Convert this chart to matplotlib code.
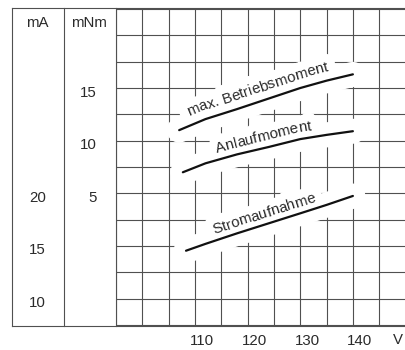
import matplotlib
matplotlib.use("Agg")
import matplotlib.pyplot as plt
import matplotlib.patheffects as pe
from matplotlib.font_manager import FontProperties
from matplotlib.lines import Line2D
from matplotlib.transforms import ScaledTranslation
import numpy as np

# values (x in V, torque in mNm, current in mA)
volts_max = [107, 112, 118, 124, 130, 135, 140]
max_torque = [11.0, 12.05, 13.0, 14.0, 15.0, 15.7, 16.3]

volts_start = [107.7, 112, 118, 124, 130, 135, 140]
start_torque = [7.0, 7.85, 8.7, 9.4, 10.15, 10.55, 10.9]

volts_current = [108.3, 112, 118, 124, 130, 135, 140]
current_mA = [14.55, 15.2, 16.2, 17.15, 18.1, 18.9, 19.75]

x_ticks = [110, 120, 130, 140]
torque_ticks = [5, 10, 15]
current_ticks = [10, 15, 20]
MA_OFFSET = 15  # 0 mNm sits level with 15 mA

FONT = ['Liberation Sans', 'DejaVu Sans']
plt.rcParams['font.family'] = FONT
plt.rcParams['font.size'] = 10.8
INK = '#2a2a2a'
GRIDC = '#505050'

W, H = 405, 350
fig = plt.figure(figsize=(W / 100, H / 100), dpi=100)
ax = fig.add_axes([116 / W, 1 - 326 / H, 1 - 116 / W, (326 - 8) / H])

ax.set_xlim(95, 149.9)
ax.set_ylim(-7.6, 22.6)

ax.set_xticks(x_ticks)
ax.set_xticks(np.arange(95, 150, 5), minor=True)
ax.set_yticks(torque_ticks)
ax.set_yticks(np.arange(-7.5, 23, 2.5), minor=True)
ax.grid(which='both', color=GRIDC, lw=0.8)
ax.set_axisbelow(True)
ax.tick_params(which='both', length=0, colors=INK)
ax.tick_params(axis='y', pad=13.7)
ax.tick_params(axis='x', pad=6)
for side in ['top', 'right', 'bottom']:
    ax.spines[side].set_visible(False)
ax.spines['left'].set_color(GRIDC)
ax.spines['left'].set_linewidth(0.8)

sec = ax.secondary_yaxis('left', functions=(lambda v: v + MA_OFFSET,
                                             lambda m: m - MA_OFFSET))
sec.set_yticks(current_ticks)
sec.tick_params(length=0, pad=50.4, colors=INK)
sec.spines['left'].set_visible(False)

# the printed labels sit a little off the grid lines
down = ScaledTranslation(0, -0.03, fig.dpi_scale_trans)
right = ScaledTranslation(0.07, 0, fig.dpi_scale_trans)
for lbl in ax.get_yticklabels() + sec.get_yticklabels():
    lbl.set_transform(lbl.get_transform() + down)
for lbl in ax.get_xticklabels():
    lbl.set_transform(lbl.get_transform() + right)

# frame of the label columns
def fline(x0, y0, x1, y1):
    fig.add_artist(Line2D([x0 / W, x1 / W], [1 - y0 / H, 1 - y1 / H],
                          transform=fig.transFigure, color=GRIDC, lw=0.8))

fline(12, 8, W, 8)
fline(12, 326, W, 326)
fline(12, 8, 12, 326)
fline(64, 8, 64, 326)

fig.text(37 / W, 1 - 23 / H, 'mA', ha='center', va='center', color=INK)
fig.text(89 / W, 1 - 23 / H, 'mNm', ha='center', va='center', color=INK)
fig.text(398 / W, 1 - 340 / H, 'V', ha='center', va='center', color=INK)

curves = [
    (volts_max, max_torque, 'max. Betriebsmoment', 14, 9),
    (volts_start, start_torque, 'Anlaufmoment', 38, 7),
    (volts_current, [c - MA_OFFSET for c in current_mA], 'Stromaufnahme', 32, 6.5),
]

# the print knocks the grid out around each curve and its label
for xs, ys, _, _, _ in curves:
    ax.plot(xs, ys, color='white', lw=18, solid_capstyle='round', zorder=2)
for xs, ys, _, _, _ in curves:
    ax.plot(xs, ys, color='#111111', lw=1.6, solid_capstyle='round', zorder=3)

fig.canvas.draw()
renderer = fig.canvas.get_renderer()
prop = FontProperties(family=FONT, size=10.8)


def width(s):
    return renderer.get_text_width_height_descent(s, prop, ismath=False)[0]


def text_along(xs, ys, label, start, lift):
    pts = ax.transData.transform(np.column_stack([xs, ys]))
    seg = np.hypot(*np.diff(pts, axis=0).T)
    arc = np.concatenate([[0], np.cumsum(seg)])

    def at(s):
        return np.array([np.interp(s, arc, pts[:, 0]), np.interp(s, arc, pts[:, 1])])

    for i, ch in enumerate(label):
        if ch == ' ':
            continue
        w = width(ch)
        mid = start + width(label[:i + 1]) - w / 2
        a, b = at(mid - 6), at(mid + 6)
        ang = np.arctan2(b[1] - a[1], b[0] - a[0])
        pos = at(mid) + lift * np.array([-np.sin(ang), np.cos(ang)])
        xd, yd = ax.transData.inverted().transform(pos)
        kw = dict(rotation=np.degrees(ang), rotation_mode='anchor',
                  ha='center', va='baseline')
        # white knock-out first, glyph on top, so letters never hide each other
        ax.text(xd, yd, ch, color='white', zorder=2.5,
                path_effects=[pe.withStroke(linewidth=12, foreground='white')], **kw)
        ax.text(xd, yd, ch, color=INK, zorder=4, **kw)


for xs, ys, label, start, lift in curves:
    text_along(xs, ys, label, start, lift)

fig.savefig('out.png', dpi=100)
